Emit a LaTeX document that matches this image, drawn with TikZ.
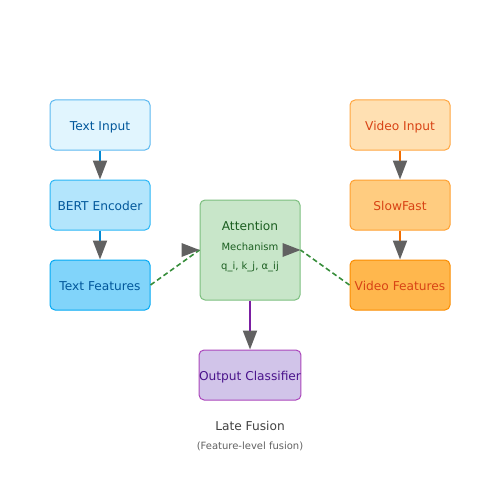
\documentclass[tikz,border=0pt]{standalone}
\usepackage{fontspec}
\setmainfont{DejaVu Sans}
\usetikzlibrary{arrows.meta,calc}
\definecolor{headgray}{HTML}{616161}
\definecolor{tiF}{HTML}{E1F5FE}\definecolor{tiD}{HTML}{5BB8F0}
\definecolor{beF}{HTML}{B3E5FC}\definecolor{beD}{HTML}{29B6F6}
\definecolor{tfF}{HTML}{81D4FA}\definecolor{tfD}{HTML}{03A9F4}
\definecolor{blueT}{HTML}{01579B}\definecolor{blueL}{HTML}{0288D1}
\definecolor{viF}{HTML}{FFE0B2}\definecolor{viD}{HTML}{FFA640}
\definecolor{sfF}{HTML}{FFCC80}\definecolor{sfD}{HTML}{FFA030}
\definecolor{vfF}{HTML}{FFB74D}\definecolor{vfD}{HTML}{FB8C00}
\definecolor{orT}{HTML}{D84315}\definecolor{orL}{HTML}{EF6C00}
\definecolor{atF}{HTML}{C8E6C9}\definecolor{atD}{HTML}{7CBF7F}
\definecolor{grT}{HTML}{1B5E20}\definecolor{grL}{HTML}{388E3C}
\definecolor{ocF}{HTML}{D1C4E9}\definecolor{ocD}{HTML}{AB47BC}
\definecolor{puT}{HTML}{4A148C}\definecolor{puL}{HTML}{7B1FA2}
\definecolor{capT}{HTML}{424242}\definecolor{subT}{HTML}{616161}
\tikzset{
  box/.style={rectangle, rounded corners=5pt, line width=1pt, minimum width=100pt, minimum height=50pt, inner sep=0pt, text height=10.5pt, text depth=0pt, font=\fontsize{12.2}{14}\selectfont},
  conn/.style={line width=2pt, -{Triangle[width=14pt,length=19pt,color=headgray,fill=headgray]}},
  dconn/.style={line width=1.6pt, grL, dash pattern=on 5pt off 3pt},
  head/.style={fill=headgray},
}
\begin{document}
\begin{tikzpicture}[x=1pt,y=-1pt]
\useasboundingbox (0,0) rectangle (500,500);
% text column
\node[box, fill=tiF, draw=tiD, text=blueT] (ti) at (100,125) {Text Input};
\node[box, fill=beF, draw=beD, text=blueT] (be) at (100,205) {BERT Encoder};
\node[box, fill=tfF, draw=tfD, text=blueT] (tf) at (100,285) {Text Features};
% video column
\node[box, fill=viF, draw=viD, text=orT] (vi) at (400,125) {Video Input};
\node[box, fill=sfF, draw=sfD, text=orT] (sf) at (400,205) {SlowFast};
\node[box, fill=vfF, draw=vfD, text=orT] (vf) at (400,285) {Video Features};
% attention
\node[box, fill=atF, draw=atD, minimum height=100pt] (at) at (250,250) {};
\node[text=grT, font=\fontsize{12.2}{14}\selectfont] (at1) at (250,226) {Attention};
\node[text=grT, font=\fontsize{10}{12}\selectfont] (at2) at (250,246.5) {Mechanism};
\node[text=grT, font=\fontsize{10}{12}\selectfont] (at3) at (250,266.5) {q\_i, k\_j, α\_ij};
% output
\node[box, fill=ocF, draw=ocD, text=puT] (oc) at (250,375) {Output Classifier};
% captions
\node[text=capT, font=\fontsize{12.2}{14}\selectfont] (cap1) at (250,426) {Late Fusion};
\node[text=subT, font=\fontsize{10}{12}\selectfont] (cap2) at (250,446.5) {(Feature-level fusion)};
% connectors
\draw[conn, blueL] (ti.south) -- (be.north);
\draw[conn, blueL] (be.south) -- (tf.north);
\draw[conn, orL] (vi.south) -- (sf.north);
\draw[conn, orL] (sf.south) -- (vf.north);
\draw[conn, puL] (at.south) -- (oc.north);
\draw[dconn] (tf.east) -- (at.west);
\draw[dconn] (vf.west) -- (at.east);
\fill[head] (at.west) -- ($(at.west)+(-18,-7)$) -- ($(at.west)+(-18,7)$) -- cycle;
\fill[head] (at.east) -- ($(at.east)+(-18,-7)$) -- ($(at.east)+(-18,7)$) -- cycle;
\end{tikzpicture}
\end{document}
